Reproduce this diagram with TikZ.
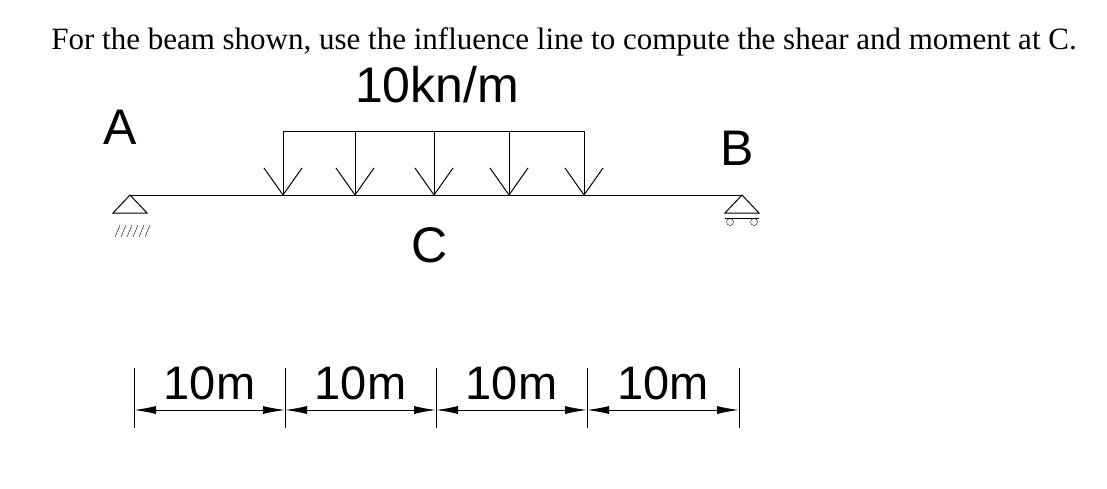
\documentclass[tikz,border=0pt]{standalone}
\usepackage{fontspec}
\setmainfont{Liberation Serif}
\newfontfamily\arial{Liberation Sans}
\usetikzlibrary{arrows.meta}
\tikzset{ln/.style={line width=1pt},
 lbl/.style={font=\arial\fontsize{50}{52}\selectfont, inner sep=0pt},
 dim/.style={font=\arial\fontsize{47}{49}\selectfont, inner sep=0pt},
 dimarr/.style={line width=1pt,{Latex[length=22pt,width=8pt]}-{Latex[length=22pt,width=8pt]}}}
\begin{document}
\begin{tikzpicture}[x=1pt,y=-1pt]
\useasboundingbox (0,0) rectangle (1107,488);
\node[font=\fontsize{31}{33}\selectfont, inner sep=0pt] (title) at (564,42) {For the beam shown, use the influence line to compute the shear and moment at C.};
\node[lbl] (q) at (437,85) {10kn/m};
\node[lbl] (A) at (120,127) {A};
\node[lbl] (B) at (737,148) {B};
\node[lbl] (C) at (430,245) {C};
\coordinate (a) at (130,195);
\coordinate (b) at (742,195);
\draw[ln] (a) -- (b);
% load
\draw[ln] (283,131) -- (584,131);
\foreach \x in {283,355,434,509,584}{
 \draw[ln] (\x,131) -- (\x,195);
 \draw[ln] (\x-19,168) -- (\x,195) -- (\x+19,168);
}
% support A
\draw[ln] (a) -- ++(-17,18) -- ++(34,0) -- cycle;
\foreach \i in {0,...,5} \draw (115+\i*6,237) -- ++(5,-12);
% support B
\draw[ln] (b) -- ++(-17,18) -- ++(34,0) -- cycle;
\draw[ln] (742-17,218) -- (742+17,218);
\draw (730,222) circle (3.5);
\draw (754,222) circle (3.5);
% dimensions
\foreach \x in {134,285,436,587,739} \draw (\x,368) -- (\x,428);
\foreach \x/\y in {134/285,285/436,436/587,587/739}{
 \draw[dimarr] (\x,410) -- (\y,410);
 \node[dim] at ({(\x+\y)/2},383) {10m};
}
\end{tikzpicture}
\end{document}
